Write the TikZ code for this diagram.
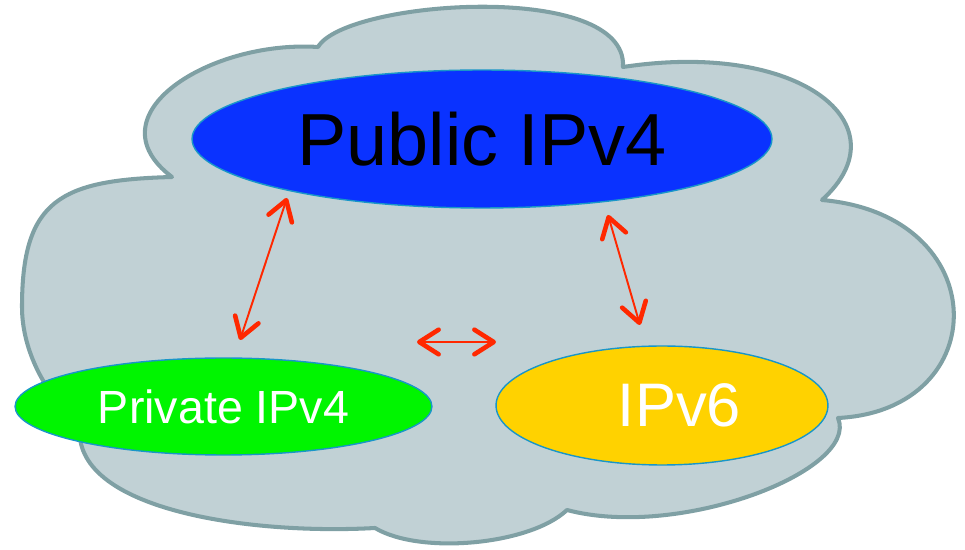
\documentclass[tikz,border=0pt]{standalone}
\usepackage{fontspec}
\setmainfont{Liberation Sans}
\usepackage{tikz}
\usetikzlibrary{shapes.geometric, arrows.meta}
\definecolor{cloudfill}{RGB}{193,209,213}
\definecolor{cloudline}{RGB}{127,160,164}
\definecolor{pubblue}{RGB}{10,50,255}
\definecolor{privgreen}{RGB}{0,245,0}
\definecolor{vsixyellow}{RGB}{255,210,0}
\definecolor{rimblue}{RGB}{25,150,200}
\definecolor{linkred}{RGB}{255,40,0}
\tikzstyle{cloud} = [draw=cloudline, fill=cloudfill, line width=2.3pt, line join=round]
\tikzstyle{net} = [ellipse, inner sep=0pt, draw=rimblue, line width=0.8pt, text centered]
\tikzstyle{public} = [net, minimum width=11.6cm, minimum height=2.76cm, fill=pubblue, text=black, font=\fontsize{42}{50}\selectfont]
\tikzstyle{private} = [net, minimum width=8.34cm, minimum height=1.94cm, fill=privgreen, text=white, font=\fontsize{26.5}{31}\selectfont]
\tikzstyle{vsix} = [net, minimum width=6.64cm, minimum height=2.38cm, fill=vsixyellow, text=white, font=\fontsize{35}{42}\selectfont]
\tikzstyle{link} = [draw=linkred, line width=1.1pt, {Straight Barb[length=11pt,width=14pt,line width=2.6pt,round]}-{Straight Barb[length=11pt,width=14pt,line width=2.6pt,round]}]

\begin{document}
\begin{tikzpicture}[x=0.02cm, y=-0.02cm]
\useasboundingbox (0,0) rectangle (965,550);

% cloud
\draw [cloud] (172,177) .. controls (90,115) and (210,40) .. (318,47)
  .. controls (345,0) and (628,-20) .. (623,67)
  .. controls (800,40) and (905,125) .. (822,200)
  .. controls (995,215) and (995,410) .. (838,418)
  .. controls (860,470) and (680,540) .. (567,510)
  .. controls (530,545) and (420,555) .. (375,528)
  .. controls (250,535) and (70,510) .. (80,425)
  .. controls (45,395) and (22,350) .. (22,307)
  .. controls (22,200) and (60,180) .. cycle;

\node (public ipv4) [public] at (482,139) {Public IPv4};
\node (private ipv4) [private] at (223.5,406.5) {Private IPv4};
\node (ipv6) [vsix] at (662,405.5) {\hspace*{0.7cm}IPv6};

% arrow ends
\coordinate (pub left) at (287,198);
\coordinate (priv top) at (240,340);
\coordinate (priv right) at (417,342);
\coordinate (v6 left) at (496,342);
\coordinate (pub right) at (608,215);
\coordinate (v6 top) at (640,325);

\draw [link] (pub left) -- (priv top);
\draw [link] (priv right) -- (v6 left);
\draw [link] (pub right) -- (v6 top);

\end{tikzpicture}
\end{document}
